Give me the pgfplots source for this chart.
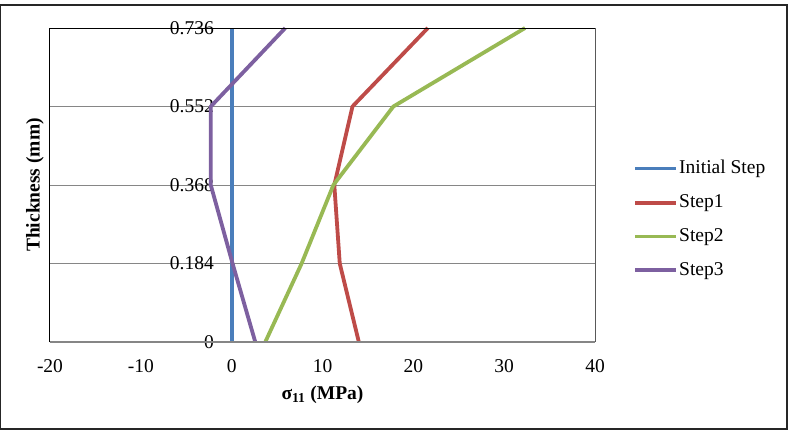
\documentclass[border=0pt]{standalone}
\usepackage{pgfplots}
\pgfplotsset{compat=1.18}
\usepackage{fontspec}
\setmainfont{Liberation Serif}
\definecolor{sBlue}{HTML}{4A7EBB}
\definecolor{sRed}{HTML}{BE4B48}
\definecolor{sGreen}{HTML}{98B954}
\definecolor{sPurple}{HTML}{7D60A0}
\definecolor{gridgray}{HTML}{868686}

\begin{document}
\fontsize{19.5bp}{23bp}\selectfont
\begin{tikzpicture}
\begin{axis}[
  name=ax,
  scale only axis, width=545bp, height=314bp,
  xmin=-20, xmax=40, ymin=0, ymax=0.736,
  xtick={-20,-10,...,40}, xticklabels={-20,-10,0,10,20,30,40},
  ytick={0,0.184,0.368,0.552,0.736},
  yticklabels={0,0.184,0.368,0.552,0.736},
  /pgf/number format/assume math mode=true,
  major tick length=0pt,
  ymajorgrids, grid style={gridgray, line width=0.9bp},
  axis line style={draw=none},
  tick label style={font=\fontsize{19.5bp}{23bp}\selectfont},
  xticklabel style={anchor=center, yshift=-24bp},
  yticklabel style={anchor=east, inner sep=0pt, xshift=164bp},
  xlabel={\textbf{σ\textsubscript{11} (MPa)}},
  ylabel={\textbf{Thickness (mm)}},
  label style={font=\fontsize{19.5bp}{23bp}\selectfont},
  xlabel style={at={(axis description cs:0.5,-0.169)}, anchor=center},
  ylabel style={at={(axis description cs:-0.0275,0.5)}, anchor=center},
  clip=false,
  every axis plot/.append style={line width=3.8bp, line join=round},
  legend cell align=left,
  legend image code/.code={\draw[#1, line width=3.8bp] (0bp,0bp) -- (41bp,0bp);},
  legend style={at={(axis description cs:1.0697,0.583)}, anchor=north west,
    draw=none, fill=none, inner sep=0pt, row sep=15.6bp,
    font=\fontsize{19.5bp}{23bp}\selectfont,
    nodes={inner sep=1.2bp}},
]
\addplot[sBlue] coordinates {(0,0) (0,0.184) (0,0.368) (0,0.552) (0,0.736)};
\addlegendentry{Initial Step}
\addplot[sRed] coordinates {(14.0,0) (11.9,0.184) (11.3,0.368) (13.3,0.552) (21.6,0.736)};
\addlegendentry{Step1}
\addplot[sGreen] coordinates {(3.7,0) (7.7,0.184) (11.2,0.368) (17.8,0.552) (32.3,0.736)};
\addlegendentry{Step2}
\addplot[sPurple] coordinates {(2.6,0) (0.1,0.184) (-2.3,0.368) (-2.3,0.552) (5.9,0.736)};
\addlegendentry{Step3}
% plot area frame
\draw[black, line width=1bp] (rel axis cs:0,0) -- (rel axis cs:0,1) -- (rel axis cs:1,1);
\draw[black!65, line width=1bp] (rel axis cs:1,1) -- (rel axis cs:1,0);
\draw[gridgray, line width=1.2bp] (rel axis cs:0,0) -- (rel axis cs:1,0);
\end{axis}
% chart area: outer frame and page extent
\draw[line width=1.2bp, black!85]
  ([shift={(-49.4bp,-87bp)}]ax.south west) rectangle ([shift={(192bp,23bp)}]ax.north east);
\useasboundingbox ([shift={(-50bp,-88bp)}]ax.south west) rectangle ([shift={(196bp,28bp)}]ax.north east);
\end{tikzpicture}
\end{document}
